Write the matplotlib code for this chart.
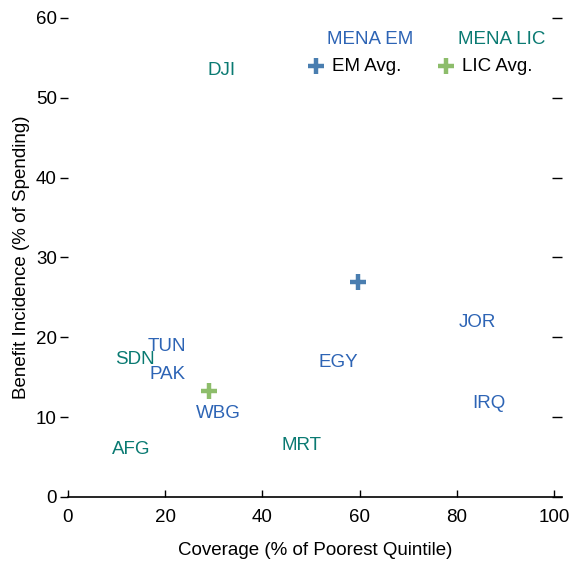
import matplotlib.pyplot as plt

plt.rcParams['font.family'] = ['Liberation Sans', 'DejaVu Sans']

# Country labels: coverage (x) vs benefit incidence (y)
em_codes = ["TUN", "PAK", "WBG", "EGY", "JOR", "IRQ"]
em_x = [20.4, 20.5, 30.9, 55.6, 84.3, 86.5]
em_y = [18.9, 15.4, 10.4, 16.85, 21.9, 11.65]

lic_codes = ["DJI", "SDN", "AFG", "MRT"]
lic_x = [31.6, 13.8, 13.0, 48.1]
lic_y = [53.4, 17.2, 6.0, 6.5]

avg_names = ["EM Avg.", "LIC Avg."]
avg_x = [59.7, 29.0]
avg_y = [26.9, 13.3]

blue = "#2d64b5"
teal = "#0a7a72"
avg_colors = ["#4a7eb0", "#8dbd6b"]

fig = plt.figure(figsize=(5.69, 5.62), dpi=100)
ax = fig.add_axes([0.1195, 0.1157, 0.8682, 0.8523])

for code, x, y in zip(em_codes, em_x, em_y):
    ax.text(x, y, code, color=blue, fontsize=13.5, ha='center', va='center')
for code, x, y in zip(lic_codes, lic_x, lic_y):
    ax.text(x, y, code, color=teal, fontsize=13.5, ha='center', va='center')
for x, y, c in zip(avg_x, avg_y, avg_colors):
    ax.plot(x, y, marker='+', ms=12, mew=3.2, color=c, linestyle='none')

# legend drawn by hand
ax.text(0.611, 0.956, "MENA EM", color=blue, fontsize=13.5, ha='center', va='center', transform=ax.transAxes)
ax.text(0.877, 0.956, "MENA LIC", color=teal, fontsize=13.5, ha='center', va='center', transform=ax.transAxes)
for lx, name, c in zip([0.502, 0.765], avg_names, avg_colors):
    ax.plot(lx, 0.899, marker='+', ms=12, mew=3.2, color=c, transform=ax.transAxes, clip_on=False)
    ax.text(lx + 0.032, 0.899, name, color='black', fontsize=13.5, ha='left', va='center', transform=ax.transAxes)

ax.set_xlim(0, 101.6)
ax.set_ylim(0, 60)
ax.set_xticks(range(0, 101, 20))
ax.set_yticks(range(0, 61, 10))

for side in ['left', 'right', 'top']:
    ax.spines[side].set_visible(False)
ax.spines['bottom'].set_linewidth(1.2)

ax.tick_params(axis='x', direction='in', length=5, width=1, labelsize=13.5, pad=9)
ax.tick_params(axis='y', direction='out', length=6, width=1, labelsize=13.5, pad=2,
               right=True, labelright=False)
for t in ax.yaxis.get_major_ticks():
    t.tick2line.set_marker(0)  # right-side tick drawn inward
    t.tick2line.set_markersize(7)

ax.set_xlabel("Coverage (% of Poorest Quintile)", fontsize=13.5, labelpad=11)
ax.set_ylabel("Benefit Incidence (% of Spending)", fontsize=13.5, labelpad=4)

fig.savefig("out.png", dpi=100)
